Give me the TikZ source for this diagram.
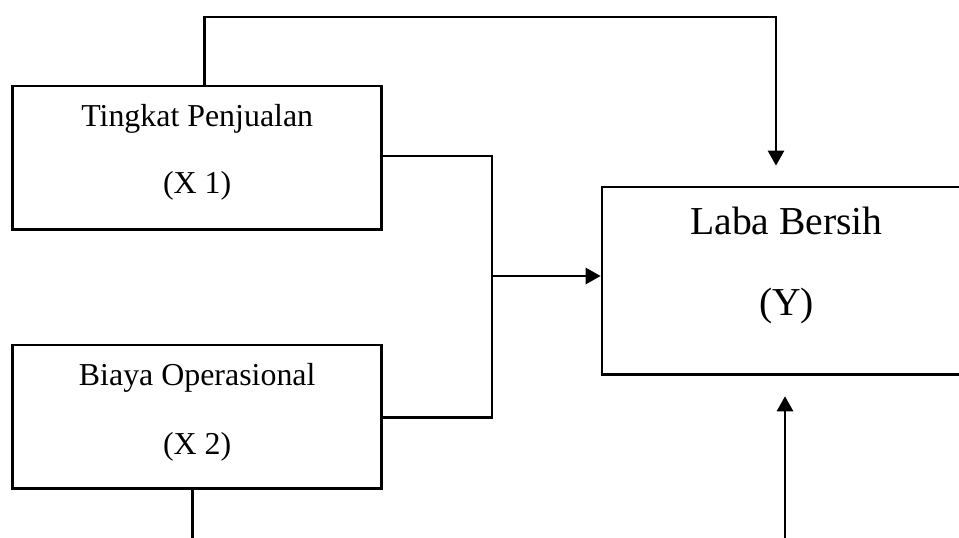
\documentclass[tikz,border=0pt]{standalone}
\usepackage{fontspec}
\setmainfont{Liberation Serif}
\usetikzlibrary{arrows.meta}
\tikzset{
  box/.style={draw=black, line width=2.6pt, rectangle, inner sep=0pt, minimum width=369pt},
  conn/.style={draw=black, line width=2.6pt},
  arr/.style={conn, -{Triangle[length=15pt,width=16pt]}},
  txt/.style={anchor=base, inner sep=0pt, font=\fontsize{31.9}{36}\selectfont},
  bigtxt/.style={anchor=base, inner sep=0pt, font=\fontsize{39.6}{44}\selectfont}
}
\begin{document}
\begin{tikzpicture}[x=1pt,y=-1pt]
\useasboundingbox (0,0) rectangle (959,538);
\fill[white] (0,0) rectangle (959,538);
% boxes
\node[box, minimum height=143.3pt] (X1) at (197.2,157.7) {};
\node[box, minimum height=143.7pt] (X2) at (197.2,416.9) {};
\node[box, minimum height=187.3pt] (Y) at (786.5,280.6) {};
% texts
\node[txt] (x1a) at (197.2,126) {Tingkat Penjualan};
\node[txt] (x1b) at (197.2,193.3) {(X 1)};
\node[txt] (x2a) at (197.2,385) {Biaya Operasional};
\node[txt] (x2b) at (197.2,454) {(X 2)};
\node[bigtxt] (ya) at (786.5,234) {Laba Bersih};
\node[bigtxt] (yb) at (786.5,315) {(Y)};
% coordinates
\coordinate (t1) at (204.5,17);
\coordinate (t2) at (776,17);
\coordinate (j) at (492,276);
\coordinate (b) at (192.7,545);
\coordinate (u) at (785,545);
% connectors
\draw[arr] (X1.north -| t1) -- (t1) -- (t2) -- ([yshift=20pt]Y.north -| t2);
\draw[conn] ([yshift=1.7pt]X1.east) -| (j) |- ([yshift=-0.8pt]X2.east);
\draw[arr] (j) -- (j -| Y.west);
\draw[conn] (X2.south -| b) -- (b);
\draw[arr] (u) -- ([yshift=-20.7pt]Y.south -| u);
\end{tikzpicture}
\end{document}
